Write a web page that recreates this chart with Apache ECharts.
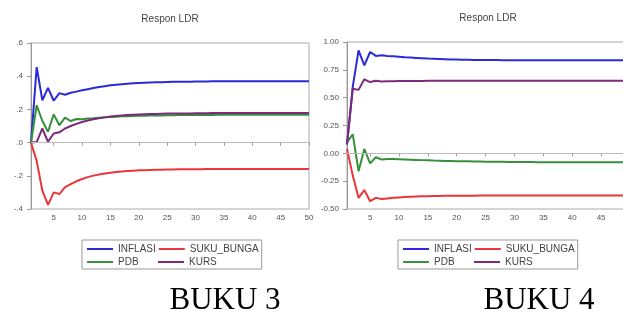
<!DOCTYPE html>
<html>
<head>
<meta charset="utf-8">
<script src="https://cdn.jsdelivr.net/npm/echarts@6/dist/echarts.min.js"></script>
<style>
html,body{margin:0;padding:0;background:#fff;}
#chart{width:623px;height:329px;}
</style>
</head>
<body>
<div id="chart"></div>
<script>
// Periods 1..50
const periods = [1,2,3,4,5,6,7,8,9,10,11,12,13,14,15,16,17,18,19,20,21,22,23,24,25,26,27,28,29,30,31,32,33,34,35,36,37,38,39,40,41,42,43,44,45,46,47,48,49,50];

// BUKU 3 (left panel)
const b3Inflasi = [0,0.455,0.255,0.330,0.252,0.298,0.288,0.300,0.307,0.315,
  0.322,0.329,0.335,0.340,0.345,0.349,0.352,0.355,0.357,0.359,
  0.361,0.362,0.363,0.364,0.365,0.366,0.366,0.367,0.367,0.368,
  0.368,0.368,0.369,0.369,0.369,0.369,0.369,0.370,0.370,0.370,
  0.370,0.370,0.370,0.370,0.370,0.370,0.370,0.370,0.370,0.370];
const b3Suku = [0,-0.110,-0.290,-0.375,-0.300,-0.310,-0.268,-0.250,-0.233,-0.219,
  -0.208,-0.199,-0.192,-0.186,-0.181,-0.177,-0.174,-0.171,-0.169,-0.167,
  -0.166,-0.165,-0.164,-0.163,-0.162,-0.162,-0.161,-0.161,-0.160,-0.160,
  -0.160,-0.159,-0.159,-0.159,-0.159,-0.159,-0.159,-0.159,-0.159,-0.159,
  -0.159,-0.159,-0.159,-0.159,-0.159,-0.159,-0.159,-0.159,-0.159,-0.159];
const b3Pdb = [0,0.225,0.130,0.065,0.170,0.105,0.150,0.130,0.142,0.140,
  0.145,0.147,0.150,0.152,0.154,0.156,0.158,0.159,0.160,0.161,
  0.162,0.163,0.164,0.164,0.165,0.165,0.166,0.166,0.166,0.167,
  0.167,0.167,0.167,0.168,0.168,0.168,0.168,0.168,0.168,0.168,
  0.168,0.168,0.168,0.168,0.168,0.168,0.168,0.168,0.168,0.168];
const b3Kurs = [0,0.003,0.085,0.005,0.055,0.062,0.085,0.100,0.113,0.124,
  0.133,0.141,0.147,0.152,0.157,0.160,0.163,0.166,0.168,0.170,
  0.171,0.172,0.173,0.174,0.175,0.175,0.176,0.176,0.176,0.177,
  0.177,0.177,0.178,0.178,0.178,0.178,0.178,0.178,0.178,0.178,
  0.178,0.178,0.178,0.178,0.178,0.178,0.178,0.178,0.178,0.178];

// BUKU 4 (right panel)
const b4Inflasi = [0.080,0.600,0.925,0.790,0.910,0.875,0.880,0.875,0.871,0.867,
  0.863,0.860,0.857,0.854,0.851,0.849,0.847,0.845,0.843,0.842,
  0.841,0.840,0.839,0.839,0.838,0.838,0.838,0.837,0.837,0.837,
  0.837,0.837,0.837,0.837,0.837,0.837,0.837,0.837,0.837,0.837,
  0.837,0.837,0.837,0.837,0.837,0.837,0.837,0.837,0.837,0.837];
const b4Suku = [0.040,-0.200,-0.400,-0.330,-0.430,-0.400,-0.410,-0.405,-0.400,-0.396,
  -0.393,-0.390,-0.388,-0.386,-0.385,-0.384,-0.383,-0.382,-0.381,-0.381,
  -0.380,-0.380,-0.380,-0.379,-0.379,-0.379,-0.379,-0.378,-0.378,-0.378,
  -0.378,-0.378,-0.378,-0.378,-0.378,-0.378,-0.378,-0.378,-0.378,-0.378,
  -0.378,-0.378,-0.378,-0.378,-0.378,-0.378,-0.378,-0.378,-0.378,-0.378];
const b4Pdb = [0.100,0.170,-0.160,0.040,-0.090,-0.035,-0.055,-0.050,-0.051,-0.053,
  -0.055,-0.057,-0.059,-0.061,-0.063,-0.065,-0.066,-0.068,-0.069,-0.070,
  -0.071,-0.072,-0.073,-0.074,-0.075,-0.075,-0.076,-0.076,-0.077,-0.077,
  -0.078,-0.078,-0.078,-0.079,-0.079,-0.079,-0.079,-0.080,-0.080,-0.080,
  -0.080,-0.080,-0.080,-0.080,-0.080,-0.080,-0.080,-0.080,-0.080,-0.080];
const b4Kurs = [0.080,0.580,0.570,0.665,0.640,0.652,0.646,0.648,0.648,0.649,
  0.649,0.650,0.650,0.650,0.651,0.651,0.651,0.651,0.652,0.652,
  0.652,0.652,0.652,0.652,0.652,0.652,0.652,0.652,0.652,0.652,
  0.652,0.652,0.652,0.652,0.652,0.652,0.652,0.652,0.652,0.652,
  0.652,0.652,0.652,0.652,0.652,0.652,0.652,0.652,0.652,0.652];

const seriesNames = ['INFLASI','SUKU_BUNGA','PDB','KURS'];
const chartTitle = 'Respon LDR';
const captions = ['BUKU 3','BUKU 4'];

const colors = {INFLASI:'#2a2ad8', SUKU_BUNGA:'#e8363a', PDB:'#36903a', KURS:'#7d2a7d'};
const axisFont = 'Liberation Sans, Arial, sans-serif';

const chart = echarts.init(document.getElementById('chart'), null, {renderer:'canvas'});

function xAx(gi){
  return {
    type:'category', gridIndex:gi, data:periods, boundaryGap:false,
    axisLine:{show:true, lineStyle:{color:'#999', width:1}},
    axisTick:{show:true, length:3, interval:function(i){return (i+1)%5===0;}, lineStyle:{color:'#999'}},
    axisLabel:{interval:function(i){return (i+1)%5===0;}, fontSize:8, color:'#555', margin:5, fontFamily:axisFont},
    splitLine:{show:false}
  };
}
function yAx(gi, min, max, interval, fmt){
  return {
    type:'value', gridIndex:gi, min:min, max:max, interval:interval,
    axisLine:{show:true, lineStyle:{color:'#999', width:1}},
    axisTick:{show:true, length:4, inside:false, lineStyle:{color:'#999'}},
    axisLabel:{formatter:fmt, fontSize:8, color:'#555', margin:8, fontFamily:axisFont},
    splitLine:{show:false}
  };
}
function mk(name, data, gi, withZero){
  const s = {
    name:name, type:'line', xAxisIndex:gi, yAxisIndex:gi, data:data,
    showSymbol:false, symbol:'none', smooth:false,
    lineStyle:{color:colors[name], width:2}, itemStyle:{color:colors[name]}
  };
  if (withZero){
    s.markLine = {silent:true, symbol:'none', label:{show:false}, animation:false,
      lineStyle:{color:'#bbb', width:1, type:'solid'}, data:[{yAxis:0}]};
    s.z = 1;
  }
  return s;
}
function legend(left){
  return {
    left:left, top:240, width:172, orient:'horizontal',
    itemWidth:26, itemHeight:2, itemGap:3, icon:'rect',
    padding:[4,3,2,5], borderColor:'#999', borderWidth:1,
    textStyle:{fontSize:10, lineHeight:10, color:'#444', fontFamily:axisFont},
    data:[{name:'INFLASI', textStyle:{width:37}}, {name:'SUKU_BUNGA'}, {name:'PDB', textStyle:{width:37}}, {name:'KURS'}]
  };
}

const option = {
  animation:false,
  backgroundColor:'#fff',
  grid:[
    {left:31, width:278, top:43, height:166, show:true, borderColor:'#aaa', borderWidth:1, containLabel:false, outerBoundsMode:'none'},
    {left:347, width:283, top:42, height:167, show:true, borderColor:'#aaa', borderWidth:1, containLabel:false, outerBoundsMode:'none'}
  ],
  xAxis:[xAx(0), xAx(1)],
  yAxis:[
    yAx(0, -0.4, 0.6, 0.2, function(v){ return v.toFixed(1).replace('0.', '.'); }),
    yAx(1, -0.5, 1.0, 0.25, function(v){ return v.toFixed(2); })
  ],
  legend:[legend(82), legend(398)],
  graphic:[
    {type:'text', x:170, y:19, style:{text:chartTitle, textAlign:'center', textVerticalAlign:'middle', fontSize:10, fill:'#444', fontFamily:axisFont}},
    {type:'text', x:488, y:18, style:{text:chartTitle, textAlign:'center', textVerticalAlign:'middle', fontSize:10, fill:'#444', fontFamily:axisFont}},
    {type:'text', x:225, y:301, style:{text:captions[0], textAlign:'center', textVerticalAlign:'middle', fontSize:31, fill:'#000', fontFamily:'Liberation Serif, Times New Roman, serif'}},
    {type:'text', x:539, y:301, style:{text:captions[1], textAlign:'center', textVerticalAlign:'middle', fontSize:31, fill:'#000', fontFamily:'Liberation Serif, Times New Roman, serif'}}
  ],
  series:[
    mk('INFLASI', b3Inflasi, 0, true),
    mk('SUKU_BUNGA', b3Suku, 0),
    mk('PDB', b3Pdb, 0),
    mk('KURS', b3Kurs, 0),
    mk('INFLASI', b4Inflasi, 1, true),
    mk('SUKU_BUNGA', b4Suku, 1),
    mk('PDB', b4Pdb, 1),
    mk('KURS', b4Kurs, 1)
  ]
};
chart.setOption(option);
</script>
</body>
</html>
